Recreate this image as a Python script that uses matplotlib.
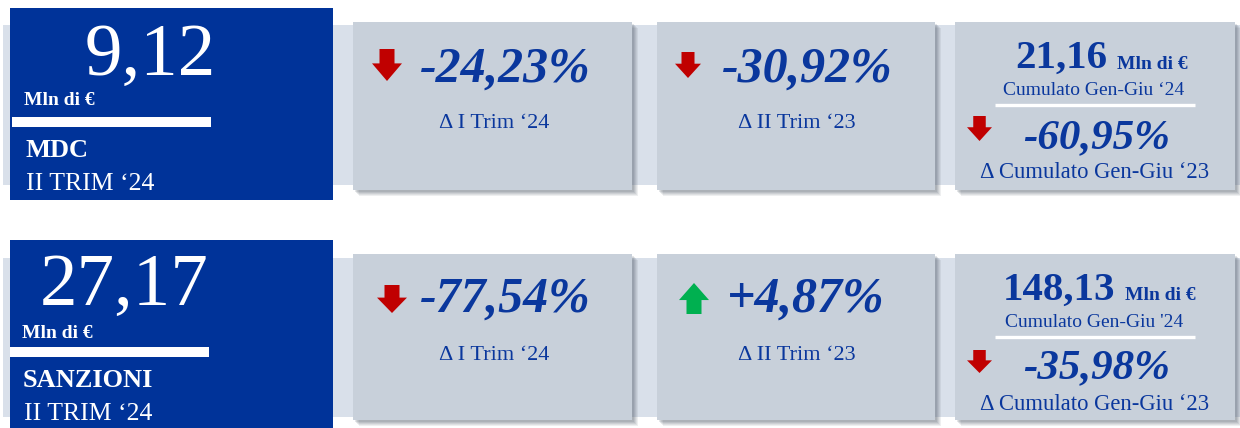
import matplotlib
matplotlib.use("Agg")
import matplotlib.pyplot as plt
from matplotlib.patches import Rectangle, Polygon

# ---------------- data ----------------
sections = ["MDC", "SANZIONI"]
period_labels = ["II TRIM \u201824", "II TRIM \u201824"]
totals = [9.12, 27.17]
delta_prev_q = [-24.23, -77.54]
delta_prev_q_label = "\u0394 I Trim \u201824"
delta_same_q = [-30.92, 4.87]
delta_same_q_label = "\u0394 II Trim \u201823"
cumulated = [21.16, 148.13]
cumulated_labels = ["Cumulato Gen-Giu \u201824", "Cumulato Gen-Giu '24"]
delta_cum = [-60.95, -35.98]
delta_cum_label = "\u0394 Cumulato Gen-Giu \u201823"
unit = "Mln di \u20ac"

# ---------------- style ----------------
SERIF = ["Liberation Serif", "DejaVu Serif"]
BLUE_BOX = "#003399"
TEXT_BLUE = "#0a379d"
CARD = "#c8d0da"
STRIP = "#d9e0ea"
RED = "#c00000"
GREEN = "#00b050"


def fmt(v, sign=False):
    s = f"{abs(v):.2f}".replace(".", ",")
    if sign:
        s = ("+" if v >= 0 else "-") + s + "%"
    return s


fig = plt.figure(figsize=(12.4, 4.28), dpi=100)
ax = fig.add_axes([0, 0, 1, 1])
ax.set_xlim(0, 1240)
ax.set_ylim(428, 0)
ax.axis("off")


def rect(x0, y0, x1, y1, color, z=1, alpha=1.0):
    ax.add_patch(Rectangle((x0, y0), x1 - x0, y1 - y0, facecolor=color,
                           edgecolor="none", zorder=z, alpha=alpha))


def card(x0, y0, x1, y1):
    # soft shadow
    for i, a in enumerate([0.10, 0.10, 0.12, 0.14, 0.16]):
        d = 6 - i
        rect(x0 + d, y0 + d, x1 + d, y1 + d, "#5a6470", z=2, alpha=a)
    rect(x0, y0, x1, y1, CARD, z=3)


def arrow(xc, ytop, w, h, up, color):
    sw = w * 0.5
    hh = h * 0.55
    if up:
        pts = [(xc, ytop), (xc + w / 2, ytop + hh), (xc + sw / 2, ytop + hh),
               (xc + sw / 2, ytop + h), (xc - sw / 2, ytop + h),
               (xc - sw / 2, ytop + hh), (xc - w / 2, ytop + hh)]
    else:
        yb = ytop + h
        pts = [(xc, yb), (xc + w / 2, yb - hh), (xc + sw / 2, yb - hh),
               (xc + sw / 2, ytop), (xc - sw / 2, ytop),
               (xc - sw / 2, yb - hh), (xc - w / 2, yb - hh)]
    ax.add_patch(Polygon(pts, closed=True, facecolor=color, edgecolor="none", zorder=5))


def txt(x, y, s, size, color, weight="normal", style="normal", ha="left"):
    ax.text(x, y, s, fontsize=size, color=color, fontweight=weight, fontstyle=style,
            ha=ha, va="baseline", family=SERIF, zorder=6)


row_dy = [0, 232]
card_x = [(353, 632), (657, 935), (955, 1235)]
card_y = [(22, 190), (254, 420)]
strip_y = [(25, 185), (258, 417)]
big_x = [85, 40]
big_base = [75, 305]

for r in range(2):
    dy = row_dy[r]
    # light strip
    rect(3, strip_y[r][0], 1240, strip_y[r][1], STRIP, z=0)
    # blue box
    rect(10, 8 + dy, 333, 200 + dy + (40 if r == 1 else 0), BLUE_BOX, z=4)
    txt(big_x[r], big_base[r], fmt(totals[r]), 54, "white")
    txt(24 if r == 0 else 22, 105 + dy - (0 if r == 0 else -1), unit, 14, "white", weight="bold")
    rect(12 if r == 0 else 10, 117 + dy - (2 if r == 1 else 0), 211 if r == 0 else 209,
         127 + dy - (2 if r == 1 else 0), "white", z=5)
    txt(26 if r == 0 else 23, 157 + dy - (2 if r == 1 else 0), sections[r], 19, "white", weight="bold")
    txt(26 if r == 0 else 24, 190 + dy - (2 if r == 1 else 0), period_labels[r], 18.5, "white")

    cy0, cy1 = card_y[r]
    for (x0, x1) in card_x:
        card(x0, cy0, x1, cy1)

    # card 1: vs previous quarter
    v = delta_prev_q[r]
    pb = 82 if r == 0 else 312
    arrow(387 if r == 0 else 392, pb - 33 if r == 0 else pb - 27, 30, 32 if r == 0 else 28,
          v >= 0, GREEN if v >= 0 else RED)
    txt(420, pb, fmt(v, True), 36, TEXT_BLUE, weight="bold", style="italic")
    txt(494, pb + 46 if r == 0 else pb + 48, delta_prev_q_label, 16, TEXT_BLUE, ha="center")

    # card 2: vs same quarter previous year
    v = delta_same_q[r]
    arrow(688 if r == 0 else 694, pb - 30 if r == 0 else pb - 29, 26 if r == 0 else 30,
          26 if r == 0 else 31, v >= 0, GREEN if v >= 0 else RED)
    txt(722 if r == 0 else 727, pb, fmt(v, True), 36, TEXT_BLUE, weight="bold", style="italic")
    txt(797, pb + 46 if r == 0 else pb + 48, delta_same_q_label, 16, TEXT_BLUE, ha="center")

    # card 3: cumulated
    cb = 68 if r == 0 else 300
    txt(1015 if r == 0 else 1003, cb, fmt(cumulated[r]), 29.5, TEXT_BLUE, weight="bold")
    txt(1117 if r == 0 else 1125, cb + 1 if r == 0 else cb, unit, 14, TEXT_BLUE, weight="bold")
    txt(1094, cb + 27, cumulated_labels[r], 14, TEXT_BLUE, ha="center")
    ly = 105 if r == 0 else 337
    ax.plot([995, 1195], [ly, ly], color="white", lw=2.4, zorder=5, solid_capstyle="butt")
    v = delta_cum[r]
    arrow(979.5, 116 if r == 0 else 350, 25, 25 if r == 0 else 23, v >= 0, GREEN if v >= 0 else RED)
    txt(1097, 148 if r == 0 else 378, fmt(v, True), 31, TEXT_BLUE, weight="bold", style="italic",
        ha="center")
    txt(1095, 178 if r == 0 else 410, delta_cum_label, 16.3, TEXT_BLUE, ha="center")

fig.savefig("out.png", dpi=100, facecolor="white")
